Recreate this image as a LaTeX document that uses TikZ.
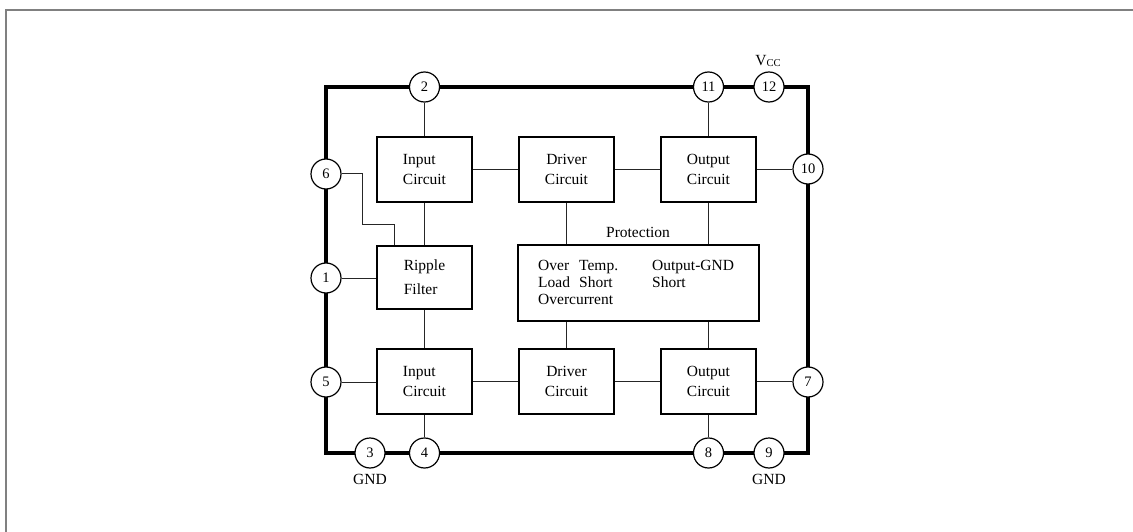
\documentclass[tikz,border=0pt]{standalone}
\usepackage{fontspec}
\setmainfont{Liberation Serif}
\begin{document}
\begin{tikzpicture}[x=1pt,y=-1pt,
  blk/.style={draw,line width=2.2pt,minimum width=95pt,minimum height=65pt,inner sep=0pt,font=\fontsize{15.5}{20.5}\selectfont},
  pin/.style={circle,draw,fill=white,line width=1.2pt,minimum size=30pt,inner sep=0pt,font=\fontsize{14.5}{14.5}\selectfont},
  wire/.style={line width=1pt,black!85},
  lbl/.style={inner sep=0pt,font=\fontsize{15.5}{17}\selectfont}]
\useasboundingbox (0,0) rectangle (1133,532);
\draw[gray,line width=2pt] (6,545) -- (6,10) -- (1145,10);
% chip outline
\draw[line width=3.5pt] (326,87) rectangle (808,453);
% blocks
\node[blk,align=left] (in1) at (424.5,169.5) {Input\\Circuit};
\node[blk,align=center] (dr1) at (566.5,169.5) {Driver\\Circuit};
\node[blk,align=center] (out1) at (708.5,169.5) {Output\\Circuit};
\node[blk,align=left,minimum height=63pt,font=\fontsize{15.5}{24}\selectfont] (rip) at (424.5,277.5) {Ripple\\Filter};
\node[blk,align=left] (in2) at (424.5,381.5) {Input\\Circuit};
\node[blk,align=center] (dr2) at (566.5,381.5) {Driver\\Circuit};
\node[blk,align=center] (out2) at (708.5,381.5) {Output\\Circuit};
\node[draw,line width=2.2pt,minimum width=241pt,minimum height=76pt,inner sep=0pt] (prot) at (638.5,283) {};
\node[lbl] (plbl) at (638,232) {Protection};
\node[lbl,anchor=base west] (p1) at (538,270) {Over};
\node[lbl,anchor=base west] (p2) at (579,270) {Temp.};
\node[lbl,anchor=base west] (p3) at (538,287) {Load};
\node[lbl,anchor=base west] (p4) at (579,287) {Short};
\node[lbl,anchor=base west] (p5) at (538,304) {Overcurrent};
\node[lbl,anchor=base west] (p6) at (652,270) {Output-GND};
\node[lbl,anchor=base west] (p7) at (652,287) {Short};
% pins
\node[pin] (pin2) at (424.5,87) {2};
\node[pin] (pin11) at (708.5,87) {11};
\node[pin] (pin12) at (769,87) {12};
\node[pin] (pin6) at (326,174) {6};
\node[pin] (pin1) at (326,278) {1};
\node[pin] (pin5) at (326,382) {5};
\node[pin] (pin10) at (808,169) {10};
\node[pin] (pin7) at (808,382) {7};
\node[pin] (pin3) at (370,453) {3};
\node[pin] (pin4) at (424.5,453) {4};
\node[pin] (pin8) at (708.5,453) {8};
\node[pin] (pin9) at (769,453) {9};
% labels
\node[lbl] (vcc) at (768,61) {V\raisebox{-1pt}{\fontsize{10.5}{10.5}\selectfont CC}};
\node[lbl] (gnd1) at (370,479) {GND};
\node[lbl] (gnd2) at (769,479) {GND};
% connectors
\draw[wire] (pin2.south) -- (in1.north);
\draw[wire] (in1) -- (dr1);
\draw[wire] (dr1) -- (out1);
\draw[wire] (out1.east) -- (out1.east -| pin10.west);
\draw[wire] (pin11.south) -- (out1.north);
\draw[wire] (in1.south) -- (rip.north);
\coordinate (c6a) at (362,224);
\draw[wire] (pin6.east) -| (c6a) -| ([xshift=-30.5pt]rip.north);
\draw[wire] (pin1.east) -- (pin1.east -| rip.west);
\draw[wire] (rip.south) -- (in2.north);
\draw[wire] (pin5.east) -- (pin5.east -| in2.west);
\draw[wire] (in2) -- (dr2);
\draw[wire] (dr2) -- (out2);
\draw[wire] (out2.east) -- (out2.east -| pin7.west);
\draw[wire] (in2.south) -- (pin4.north);
\draw[wire] (out2.south) -- (pin8.north);
\draw[wire] (dr1.south) -- (dr1.south |- prot.north);
\draw[wire] (out1.south) -- (out1.south |- prot.north);
\draw[wire] (dr2.north) -- (dr2.north |- prot.south);
\draw[wire] (out2.north) -- (out2.north |- prot.south);
\end{tikzpicture}
\end{document}
